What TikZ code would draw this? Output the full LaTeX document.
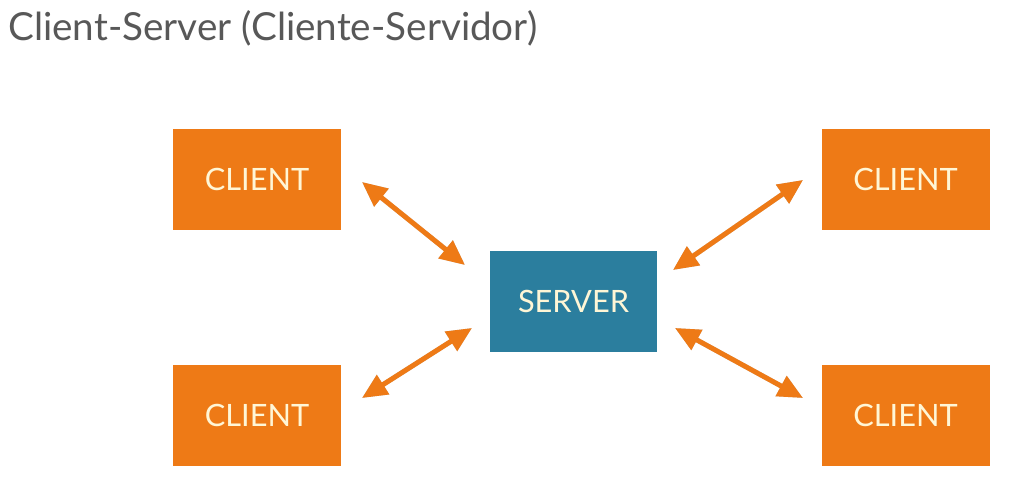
\documentclass[tikz,border=0pt]{standalone}
\usepackage{fontspec}
\setmainfont{Lato}
\usetikzlibrary{arrows.meta}
\definecolor{clientorange}{RGB}{238,122,22}
\definecolor{serverblue}{RGB}{43,126,158}
\definecolor{labelcream}{RGB}{255,246,214}
\definecolor{titlegray}{RGB}{88,88,88}
\tikzstyle{client}=[rectangle, fill=clientorange, text=labelcream,
                    minimum width=3.36cm, minimum height=2.02cm,
                    font=\fontsize{17.5}{20}\selectfont]
\tikzstyle{server}=[rectangle, fill=serverblue, text=labelcream,
                    minimum width=3.34cm, minimum height=2.02cm,
                    font=\fontsize{17.5}{20}\selectfont]
\tikzstyle{link}=[draw=clientorange, line width=2.8pt,
                  {Triangle[length=0.5cm,width=0.44cm]}-{Triangle[length=0.5cm,width=0.44cm]}]
\tikzstyle{linkshadow}=[draw=black!20, line width=2.8pt, xshift=0.4mm, yshift=-0.5mm,
                  {Triangle[length=0.5cm,width=0.44cm]}-{Triangle[length=0.5cm,width=0.44cm]}]
\tikzstyle{heading}=[text=titlegray, font=\fontsize{22}{26}\selectfont, inner sep=0pt]

\begin{document}
\begin{tikzpicture}
  \useasboundingbox (0,0) rectangle (20.48,-9.74);
  % Title
  \node[heading, anchor=base west] (title) at (0.16,-0.82) {Client-Server (Cliente-Servidor)};
  %
  % Place clients and the server
  \foreach \place/\name in {{(5.14,-3.59)/c1}, {(18.11,-3.59)/c2},
           {(5.14,-8.31)/c3}, {(18.11,-8.31)/c4}}
    \node[client] (\name) at \place {CLIENT};
  \node[server] (s) at (11.47,-6.03) {SERVER};
  %
  % Arrow ends
  \coordinate (c1e) at (7.24,-3.64);
  \coordinate (s1e) at (9.30,-5.30);
  \coordinate (c2e) at (16.06,-3.60);
  \coordinate (s2e) at (13.46,-5.40);
  \coordinate (c3e) at (7.24,-7.96);
  \coordinate (s3e) at (9.44,-6.56);
  \coordinate (c4e) at (16.06,-7.96);
  \coordinate (s4e) at (13.50,-6.56);
  \foreach \from/\to in {c1e/s1e, c2e/s2e, c3e/s3e, c4e/s4e}
    {\path[linkshadow] (\from) -- (\to);
     \path[link] (\from) -- (\to);}
\end{tikzpicture}
\end{document}
